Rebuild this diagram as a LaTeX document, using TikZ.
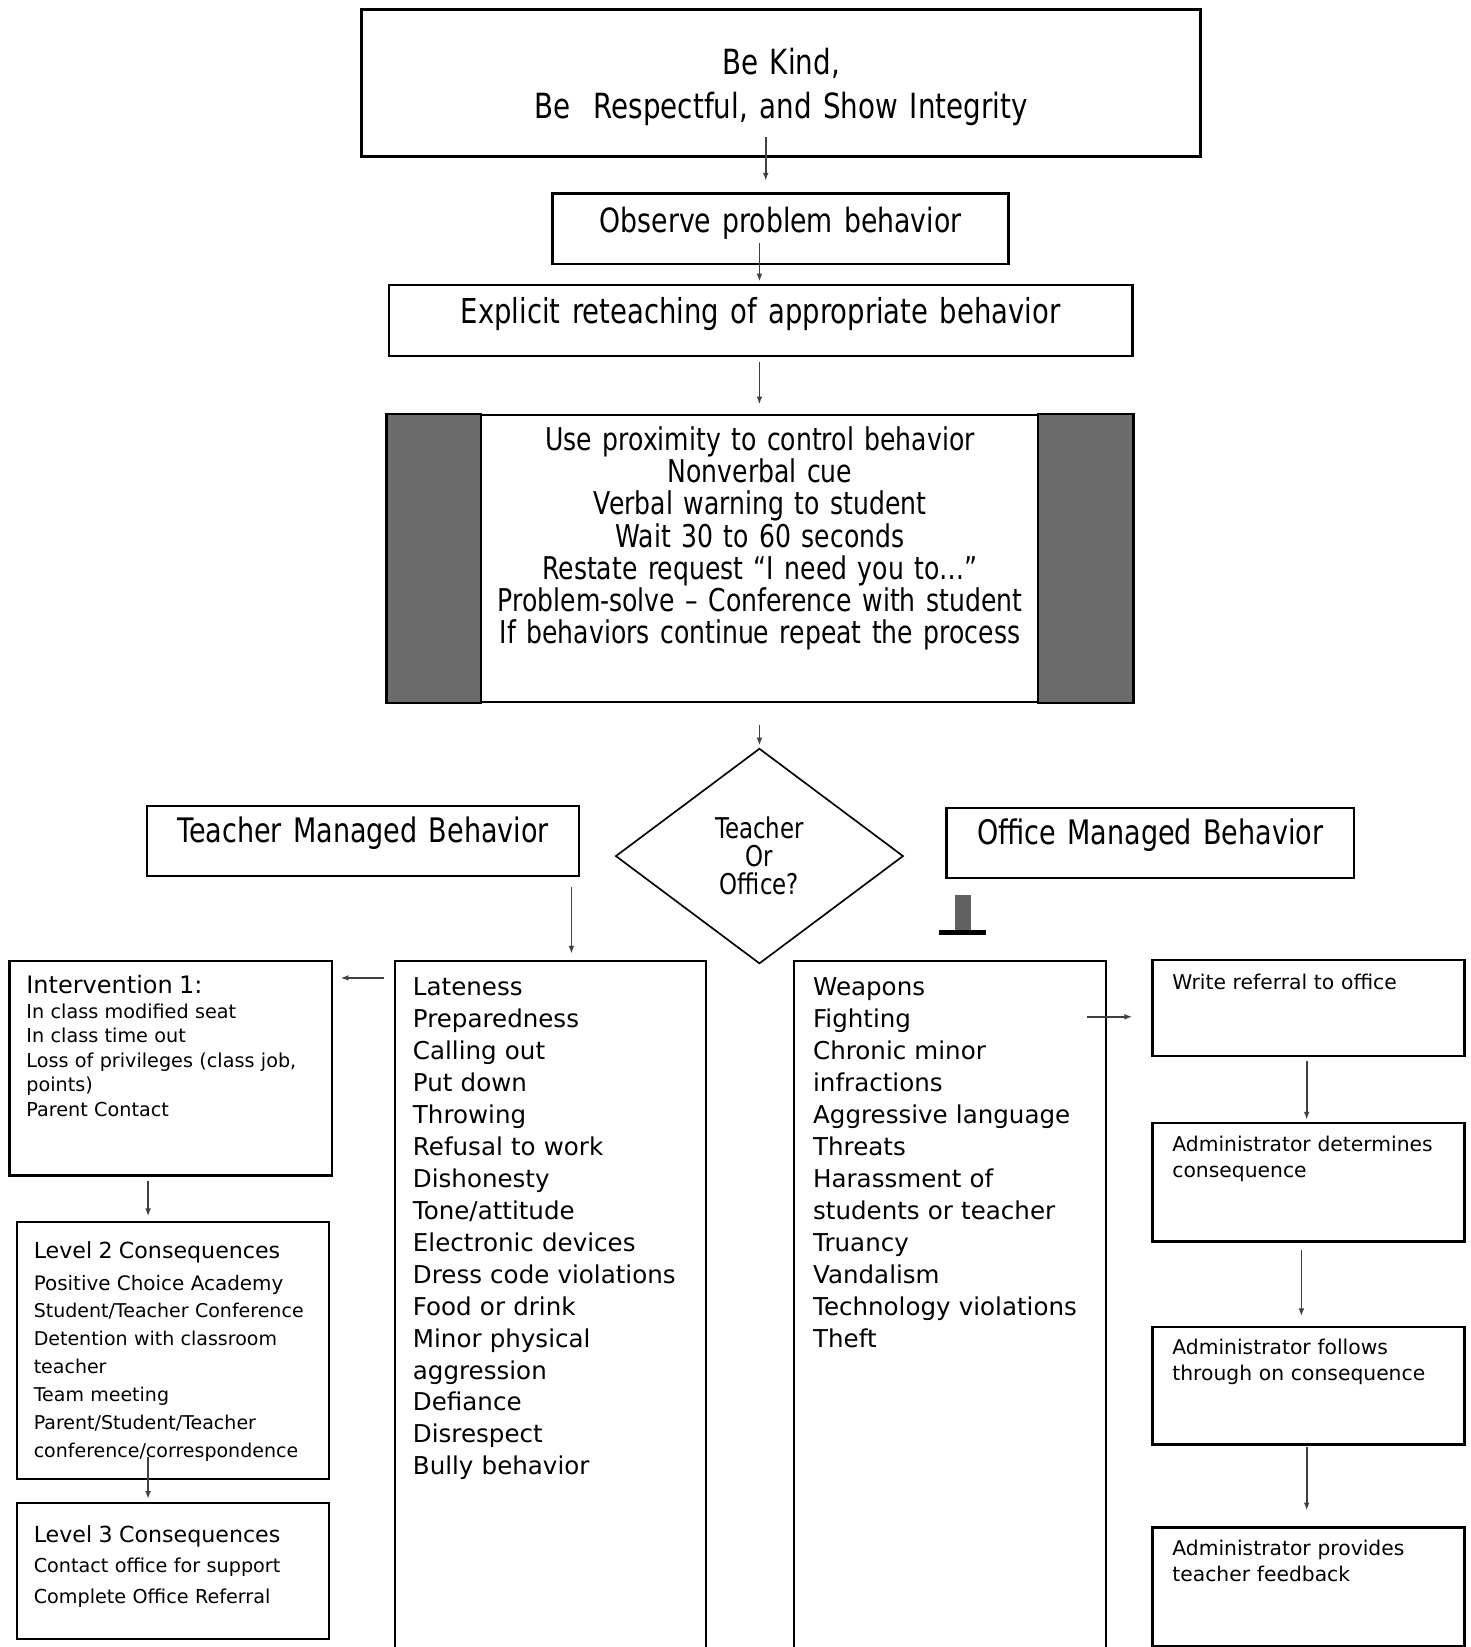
\documentclass[tikz,border=0pt]{standalone}
\usepackage{fontspec}
\setmainfont{DejaVu Sans}
\newfontfamily\narrowfont[FakeStretch=0.8]{DejaVu Sans}
\usetikzlibrary{shapes.geometric,arrows.meta}

\tikzset{
  box/.style={draw, line width=1.3pt, anchor=north west, inner ysep=0pt, align=left},
  cbox/.style={box, inner xsep=0pt, align=center},
  arr/.style={draw=black!75, line width=0.9pt, -{Latex[length=1.5mm,width=1.1mm]}},
  markbar/.style={draw=black!62, line width=0.3cm, -{Bar[width=0.9cm,line width=0.1cm,color=black]}},
  bargray/.style={fill=black!58, draw=black, line width=1.3pt},
  listfont/.style={font=\fontsize{13.3}{17.3}\selectfont},
  smallfont/.style={font=\fontsize{11}{14.2}\selectfont},
}

\begin{document}
\begin{tikzpicture}[x=0.02cm, y=-0.02cm]
    % Fix the page to the picture size
    \useasboundingbox (0,0) rectangle (1400,1568);
    \clip (0,0) rectangle (1400,1568);

    % Draw the title box
    \node[cbox, text width=15.98cm, text height=1.24cm, text depth=1.56cm,
          font=\narrowfont\fontsize{18.8}{23.9}\selectfont] (title) at (343,8)
          {Be Kind,\\Be~ Respectful, and Show Integrity};

    % Draw the first steps
    \node[cbox, text width=8.68cm, text height=0.74cm, text depth=0.6cm,
          font=\narrowfont\fontsize{18.1}{22}\selectfont] (observe) at (525,183)
          {Observe problem behavior};
    \node[cbox, text width=14.16cm, text height=0.74cm, text depth=0.62cm,
          font=\narrowfont\fontsize{18.6}{22}\selectfont] (reteach) at (369,270)
          {Explicit reteaching of appropriate behavior};

    % Draw the box with the grey side bars
    \node[cbox, text width=14.18cm, text height=0.68cm, text depth=4.78cm,
          font=\narrowfont\fontsize{17}{17.4}\selectfont] (warn) at (368,394)
          {Use proximity to control behavior\\Nonverbal cue\\Verbal warning to student\\
           Wait 30 to 60 seconds\\Restate request “I need you to…”\\
           Problem-solve – Conference with student\\If behaviors continue repeat the process};
    \draw[bargray] (warn.north west) rectangle ([xshift=1.8cm]warn.south west);
    \draw[bargray] (warn.north east) rectangle ([xshift=-1.82cm]warn.south east);

    % Draw the decision
    \node[diamond, draw, line width=0.9pt, minimum width=5.48cm, minimum height=4.1cm,
          inner sep=0pt, align=center, font=\narrowfont\fontsize{15.5}{15.1}\selectfont]
          (dec) at (723,815) {Teacher\\Or\\Office?};

    % Draw the two headings
    \node[cbox, text width=8.22cm, text height=0.7cm, text depth=0.64cm,
          font=\narrowfont\fontsize{18.3}{22}\selectfont] (tmb) at (139,766)
          {Teacher Managed Behavior};
    \node[cbox, text width=7.76cm, text height=0.7cm, text depth=0.64cm,
          font=\narrowfont\fontsize{18.3}{22}\selectfont] (omb) at (900,768)
          {Office Managed Behavior};

    % Draw the teacher side
    \node[box, inner xsep=0.32cm, text width=5.5cm, text height=0.62cm, text depth=3.46cm,
          font=\fontsize{10.4}{13.3}\selectfont] (int1) at (8,914)
          {{\fontsize{13}{16}\selectfont Intervention 1:\par}
           In class modified seat\\In class time out\\
           Loss of privileges (class job,\\points)\\Parent Contact};
    \node[box, inner xsep=0.32cm, text width=5.3cm, text height=0.7cm, text depth=4.2cm,
          font=\fontsize{10.3}{15.1}\selectfont] (lvl2) at (15,1162)
          {{\fontsize{12}{17}\selectfont Level 2 Consequences\par}
           {\fontsize{10.8}{17.1}\selectfont Positive Choice Academy\par}
           Student/Teacher Conference\\Detention with classroom\\
           teacher\\Team meeting\\Parent/Student/Teacher\\conference/correspondence};
    \node[box, inner xsep=0.32cm, text width=5.3cm, text height=0.74cm, text depth=1.84cm,
          font=\fontsize{10.4}{16.5}\selectfont] (lvl3) at (15,1430)
          {{\fontsize{12}{17}\selectfont Level 3 Consequences\par}
           Contact office for support\\Complete Office Referral};
    \node[box, listfont, inner xsep=0.34cm, text width=5.24cm, text height=0.66cm, text depth=12.66cm] (tlist) at (375,914)
          {Lateness\\Preparedness\\Calling out\\Put down\\Throwing\\Refusal to work\\Dishonesty\\
           Tone/attitude\\Electronic devices\\Dress code violations\\Food or drink\\Minor physical\\
           aggression\\Defiance\\Disrespect\\Bully behavior};

    % Draw the office side
    \node[box, listfont, inner xsep=0.36cm, text width=5.22cm, text height=0.66cm, text depth=12.66cm] (olist) at (755,914)
          {Weapons\\Fighting\\Chronic minor\\infractions\\Aggressive language\\Threats\\
           Harassment of\\students or teacher\\Truancy\\Vandalism\\Technology violations\\Theft};
    \node[box, smallfont, inner xsep=0.38cm, text width=5.18cm, text height=0.56cm, text depth=1.26cm] (refer) at (1096,913)
          {Write referral to office};
    \node[box, smallfont, inner xsep=0.38cm, text width=5.18cm, text height=0.54cm, text depth=1.72cm] (adm1) at (1096,1068)
          {Administrator determines\\consequence};
    \node[box, smallfont, inner xsep=0.38cm, text width=5.18cm, text height=0.52cm, text depth=1.72cm] (adm2) at (1096,1262)
          {Administrator follows\\through on consequence};
    \node[box, smallfont, inner xsep=0.38cm, text width=5.18cm, text height=0.54cm, text depth=1.72cm] (adm3) at (1096,1453)
          {Administrator provides\\teacher feedback};

    % Draw the arrows down the middle
    \coordinate (ax1) at (729,0);
    \coordinate (ax2) at (723,0);
    \draw[arr, shorten <=-0.4cm, shorten >=0.22cm] (title.south -| ax1) -- (observe.north -| ax1);
    \draw[arr, shorten <=-0.42cm, shorten >=0.04cm] (observe.south -| ax2) -- (reteach.north -| ax2);
    \draw[arr, shorten <=0.08cm, shorten >=0.18cm] (reteach.south -| ax2) -- (warn.north -| ax2);
    \draw[arr, shorten <=0.42cm, shorten >=0.04cm] (warn.south -| ax2) -- (dec.north);

    % Draw the arrows on the teacher side
    \coordinate (ax3) at (544,0);
    \coordinate (ax4) at (141,0);
    \coordinate (ay1) at (0,931);
    \draw[arr, shorten <=0.18cm, shorten >=0.12cm] (tmb.south -| ax3) -- (tlist.north -| ax3);
    \draw[arr, shorten <=0.18cm, shorten >=0.14cm] (tlist.west |- ay1) -- (int1.east |- ay1);
    \draw[arr, shorten <=0.08cm, shorten >=0.08cm] (int1.south -| ax4) -- (lvl2.north -| ax4);
    \draw[arr, shorten <=-0.44cm, shorten >=0.06cm] (lvl2.south -| ax4) -- (lvl3.north -| ax4);

    % Draw the arrows on the office side
    \coordinate (ax5) at (916.5,0);
    \coordinate (ax6) at (1244,0);
    \coordinate (ax7) at (1239,0);
    \coordinate (ay2) at (0,968);
    \draw[markbar, shorten <=0.3cm, shorten >=0.48cm] (omb.south -| ax5) -- (olist.north -| ax5);
    \draw[arr, shorten <=-0.38cm, shorten >=0.36cm] (olist.east |- ay2) -- (refer.west |- ay2);
    \draw[arr, shorten <=0.08cm, shorten >=0.04cm] (refer.south -| ax6) -- (adm1.north -| ax6);
    \draw[arr, shorten <=0.14cm, shorten >=0.18cm] (adm1.south -| ax7) -- (adm2.north -| ax7);
    \draw[arr, shorten <=0.02cm, shorten >=0.3cm] (adm2.south -| ax6) -- (adm3.north -| ax6);

\end{tikzpicture}
\end{document}
